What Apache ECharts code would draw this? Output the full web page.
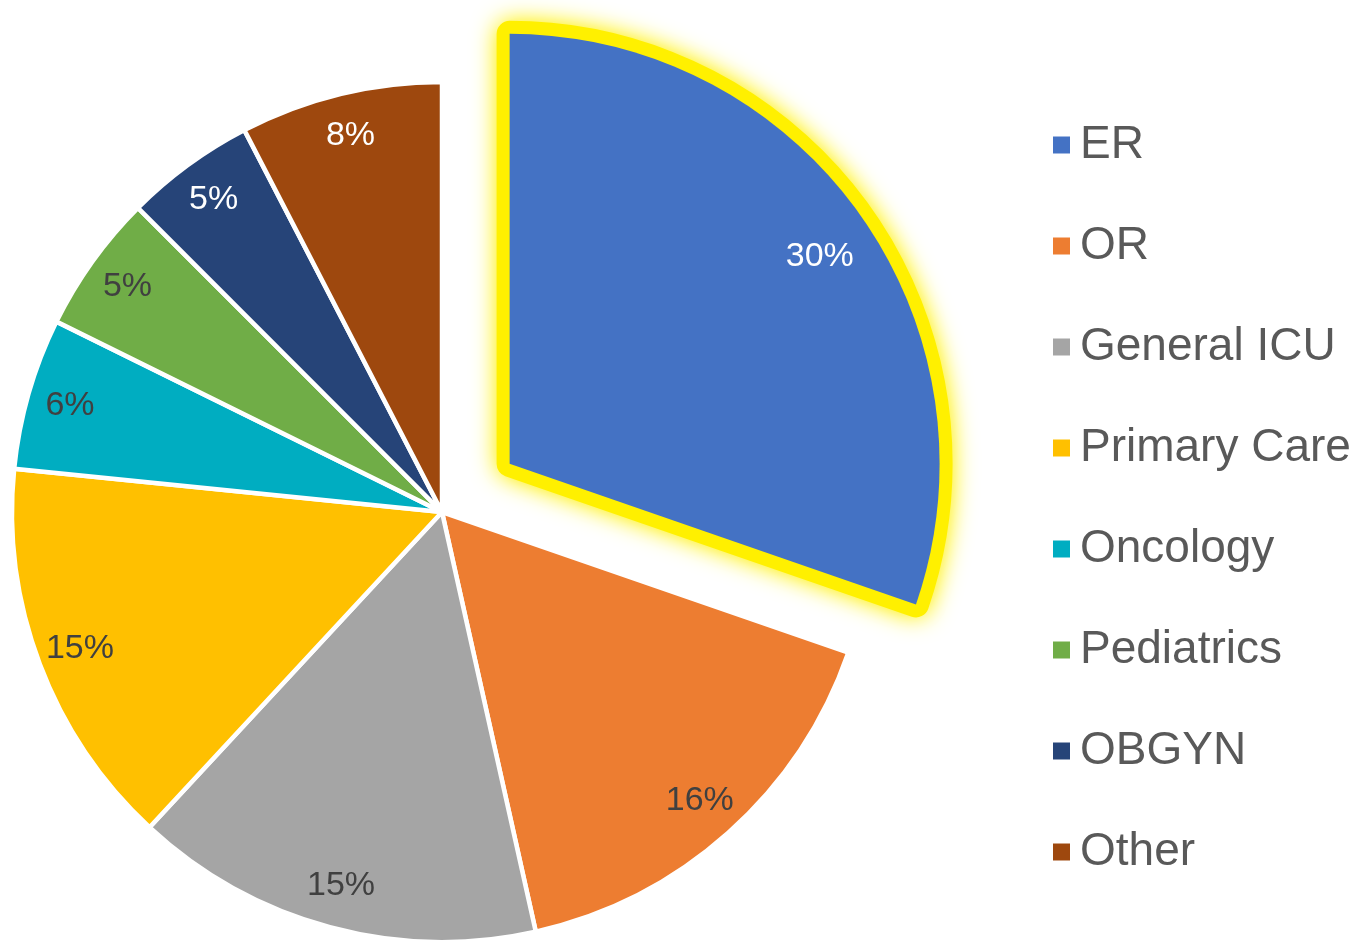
<!DOCTYPE html>
<html>
<head>
<meta charset="utf-8">
<script src="https://cdn.jsdelivr.net/npm/echarts@6/dist/echarts.min.js"></script>
<style>
    html, body { margin: 0; padding: 0; background: #fff; }
    #main { width: 1362px; height: 944px; }
</style>
</head>
<body>
<div id="main"></div>
<script>
// departments and their share (labels are rounded to whole percent)
let categories = ['ER', 'OR', 'General ICU', 'Primary Care', 'Oncology', 'Pediatrics', 'OBGYN', 'Other'];
let values = [30.3, 16.2, 15.4, 14.7, 5.7, 5.2, 4.9, 7.6];
let colors = ['#4472C4', '#ED7D31', '#A5A5A5', '#FFC000', '#00ADC1', '#70AD47', '#264478', '#9E480E'];
let whiteLabels = ['ER', 'OBGYN', 'Other'];
let exploded = 'ER';

let center = [442, 512];
let radius = 430;
let offset = 83;
let font = '"Liberation Sans", Arial, sans-serif';

let myChart = echarts.init(document.getElementById('main'));

// main slices
let mainData = categories.map(function(name, i) {
    let item = { name: name, value: values[i], itemStyle: { color: colors[i] } };
    if (name == exploded) {
        item.selected = true;
        item.itemStyle.borderWidth = 0;
    }
    return item;
});

// yellow glow under the exploded slice
let glowData = categories.map(function(name, i) {
    if (name == exploded) {
        return {
            name: name, value: values[i], selected: true,
            itemStyle: {
                color: '#FFF000', borderColor: '#FFF000', borderWidth: 26, borderJoin: 'round',
                shadowBlur: 24, shadowColor: '#FFF000'
            }
        };
    }
    return { name: name, value: values[i], itemStyle: { color: 'rgba(0,0,0,0)', borderWidth: 0 } };
});

// labels sit near the rim, so they get their own ring
let labelData = categories.map(function(name, i) {
    return {
        name: name, value: values[i], selected: name == exploded,
        label: { color: whiteLabels.indexOf(name) >= 0 ? '#ffffff' : '#404040' }
    };
});

let base = {
    type: 'pie',
    center: center,
    startAngle: 90,
    clockwise: true,
    selectedMode: 'single',
    selectedOffset: offset,
    animation: false,
    emphasis: { disabled: true, scale: false },
    labelLine: { show: false }
};

option = {
    backgroundColor: '#ffffff',
    legend: {
        orient: 'vertical',
        left: 1048,
        top: 117,
        itemWidth: 17,
        itemHeight: 17,
        itemGap: 55,
        icon: 'rect',
        selectedMode: false,
        itemStyle: { borderWidth: 0 },
        textStyle: { fontFamily: font, fontSize: 46, color: '#595959', padding: [0, 0, 0, 5] },
        data: categories
    },
    series: [
        Object.assign({}, base, {
            name: 'main', z: 2,
            radius: [0, radius],
            itemStyle: { borderColor: '#ffffff', borderWidth: 4.5 },
            label: { show: false },
            data: mainData
        }),
        Object.assign({}, base, {
            name: 'glow', z: 1, silent: true,
            radius: [0, radius],
            label: { show: false },
            data: glowData
        }),
        Object.assign({}, base, {
            name: 'labels', z: 3, silent: true,
            radius: [radius - 92, radius],
            itemStyle: { color: 'rgba(0,0,0,0)', borderWidth: 0 },
            label: {
                show: true, position: 'inside', formatter: '{d}%', rotate: 0,
                fontFamily: font, fontSize: 34
            },
            // the exploded label sits a bit lower in the original
            labelLayout: function(params) {
                return categories[params.dataIndex] == exploded ? { dx: -5, dy: 17 } : {};
            },
            percentPrecision: 0,
            data: labelData
        })
    ]
};

if (option && typeof option === "object") {
    myChart.setOption(option, true);
}
</script>
</body>
</html>
